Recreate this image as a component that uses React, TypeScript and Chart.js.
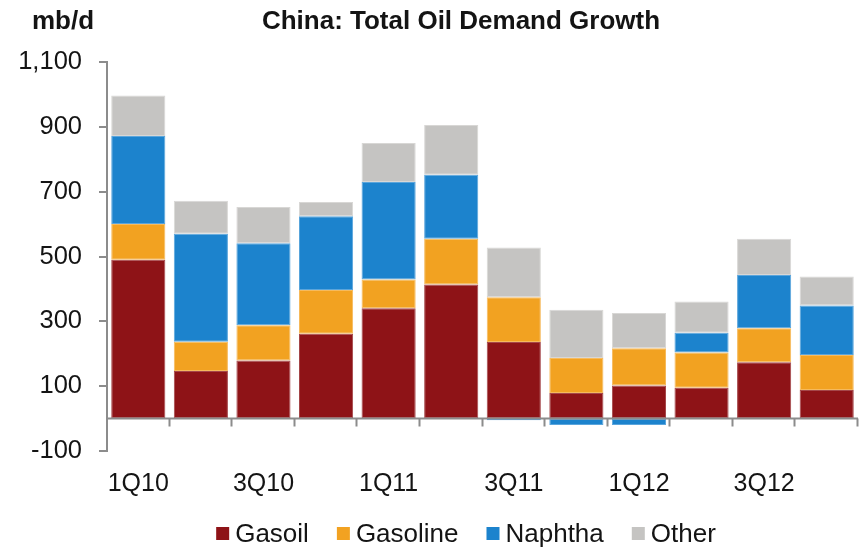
import React, { useEffect, useRef } from 'react';
import { Chart, registerables } from 'chart.js';

Chart.register(...registerables);

// ---- data ----
const categories = ['1Q10', '2Q10', '3Q10', '4Q10', '1Q11', '2Q11', '3Q11', '4Q11', '1Q12', '2Q12', '3Q12', '4Q12'];
const gasoil = [490, 147, 179, 262, 340, 414, 236, 79, 102, 95, 174, 88];
const gasoline = [110, 90, 109, 135, 89, 141, 138, 108, 115, 109, 105, 108];
const naphtha = [272, 333, 253, 227, 301, 197, -5, -20, -20, 61, 164, 153];
const other = [125, 102, 112, 44, 120, 154, 154, 149, 109, 96, 112, 89];
const seriesNames = ['Gasoil', 'Gasoline', 'Naphtha', 'Other'];
const yMin = -100;
const yMax = 1100;
const yStep = 200;
const titleText = 'China: Total Oil Demand Growth';
const unitText = 'mb/d';

// ---- styles ----
const COLORS = ['#8E1317', '#F2A221', '#1C83CD', '#C5C4C2'];
const EDGES = ['#A5474A', '#F6BA5C', '#5AA5DC', '#D8D7D5'];
const AXIS = '#8C8C8C';
const TEXT = '#141414';
const FONT = '"Liberation Sans", Arial, Helvetica, sans-serif';

const decorPlugin = {
  id: 'decor',
  afterDatasetsDraw(chart: any) {
    const { ctx, chartArea, scales } = chart;
    const y0 = scales.y.getPixelForValue(0);
    ctx.save();
    ctx.strokeStyle = AXIS;
    ctx.lineWidth = 2;
    ctx.beginPath();
    ctx.moveTo(chartArea.left, y0);
    ctx.lineTo(chartArea.right, y0);
    const n = categories.length;
    const step = (chartArea.right - chartArea.left) / n;
    for (let i = 1; i <= n; i++) {
      const x = Math.round(chartArea.left + i * step) - 0.5;
      ctx.moveTo(x, y0);
      ctx.lineTo(x, y0 + 8);
    }
    ctx.stroke();
    ctx.restore();
  },
  afterDraw(chart: any) {
    const { ctx } = chart;
    ctx.save();
    ctx.fillStyle = TEXT;
    ctx.textBaseline = 'alphabetic';
    ctx.font = `bold 26px ${FONT}`;
    ctx.textAlign = 'left';
    ctx.fillText(unitText, 32, 29);
    ctx.textAlign = 'center';
    ctx.fillText(titleText, 461, 29);

    // legend
    ctx.font = `26px ${FONT}`;
    ctx.textAlign = 'left';
    const box = 13;
    const gap = 6;
    const spacing = 28;
    const widths = seriesNames.map((s) => ctx.measureText(s).width);
    const total = widths.reduce((a, w) => a + box + gap + w, 0) + spacing * (seriesNames.length - 1);
    let x = 466 - total / 2;
    const baseline = 542;
    seriesNames.forEach((s, i) => {
      ctx.fillStyle = COLORS[i];
      ctx.fillRect(x, 527, box, box);
      x += box + gap;
      ctx.fillStyle = TEXT;
      ctx.fillText(s, x, baseline);
      x += widths[i] + spacing;
    });
    ctx.restore();
  },
};

export default function App() {
  const ref = useRef<HTMLCanvasElement>(null);

  useEffect(() => {
    if (!ref.current) return;
    const values = [gasoil, gasoline, naphtha, other];
    const chart = new Chart(ref.current, {
      type: 'bar',
      data: {
        labels: categories,
        datasets: seriesNames.map((name, i) => ({
          label: name,
          data: values[i],
          backgroundColor: COLORS[i],
          borderColor: EDGES[i],
          borderWidth: 1,
          borderSkipped: false,
          barPercentage: 0.865,
          categoryPercentage: 1,
        })),
      },
      options: {
        responsive: false,
        animation: false,
        layout: { padding: { left: 0, right: 8, top: 62, bottom: 0 } },
        plugins: {
          legend: { display: false },
          title: { display: false },
          tooltip: { enabled: false },
        },
        scales: {
          x: {
            stacked: true,
            grid: { display: false, drawTicks: false },
            border: { display: false },
            ticks: {
              autoSkip: false,
              maxRotation: 0,
              padding: 18,
              color: TEXT,
              font: { family: FONT, size: 25 },
              callback: (_v: any, i: number) => (i % 2 === 0 ? categories[i] : ''),
            },
            afterFit: (s: any) => {
              s.height = 96;
            },
          },
          y: {
            stacked: true,
            min: yMin,
            max: yMax,
            grid: { drawOnChartArea: false, drawTicks: true, tickLength: 8, color: AXIS, lineWidth: 2 },
            border: { display: true, color: AXIS, width: 2 },
            ticks: {
              stepSize: yStep,
              padding: 17,
              color: TEXT,
              font: { family: FONT, size: 25.5 },
              callback: (v: any) => Number(v).toLocaleString('en-US'),
            },
            afterFit: (s: any) => {
              s.width = 107;
            },
          },
        },
      },
      plugins: [decorPlugin],
    });
    return () => chart.destroy();
  }, []);

  return (
    <div style={{ position: 'fixed', left: 0, top: 0, width: 866, height: 547, background: '#fff' }}>
      <canvas ref={ref} width={866} height={547} style={{ display: 'block' }} />
    </div>
  );
}
